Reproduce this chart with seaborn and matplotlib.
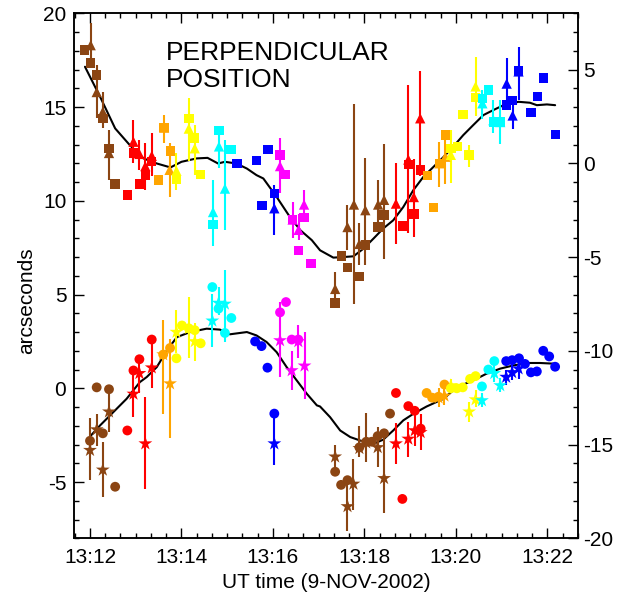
import matplotlib
matplotlib.use("Agg")
import matplotlib.pyplot as plt
from matplotlib.ticker import MultipleLocator, FixedLocator
import pandas as pd
import seaborn as sns

# time axis: minutes after 13:00 UT (9-NOV-2002)
# ---- upper set (right-hand axis): squares + triangles ----
sq_t = [11.875, 12.015, 12.146, 12.28, 12.415, 12.55,
        12.816, 12.95, 13.08, 13.21, 13.35,
        13.5, 13.62, 13.755,
        13.89, 14.16, 14.29, 14.41,
        14.69, 14.82, 15.08,
        15.21, 15.64, 15.76, 15.89, 16.03,
        16.155, 16.28, 16.43, 16.56, 16.68, 16.83,
        17.36, 17.5, 17.63, 17.89, 18.02, 18.3, 18.43,
        18.83, 18.96, 19.08, 19.22,
        19.38, 19.51, 19.64, 19.77,
        19.89, 20.03, 20.16, 20.29, 20.43,
        20.58, 20.71, 20.82, 20.97,
        21.11, 21.24, 21.37, 21.64, 21.78, 21.92, 22.18]
sq_v = [6.05, 5.35, 4.7, 2.4, 0.8, -1.1,
        -1.7, 0.55, -1.1, -0.65, 0.1,
        -0.9, 1.9, 0.65,
        -0.85, 2.4, 1.35, -0.6,
        -3.25, 1.75, 0.75,
        0.0, 0.15, -2.25, 0.75, -1.6,
        0.45, -0.6, -3.0, -4.65, -2.9, -5.35,
        -7.45, -4.95, -5.55, -6.05, -4.35, -3.4, -2.75,
        -3.35, -0.05, -2.7, -0.35,
        -0.65, -2.35, 0.0, 1.5,
        0.8, 0.9, 2.6, 0.45, 3.5,
        3.45, 3.9, 2.2, 2.2,
        3.1, 3.35, 4.95, 2.7, 3.55, 4.55, 1.55]
sq_c = (["brown"] * 6 + ["red"] * 5 + ["orange"] * 3 + ["yellow"] * 4
        + ["cyan"] * 3 + ["blue"] * 5 + ["magenta"] * 6 + ["brown"] * 7
        + ["red"] * 4 + ["orange"] * 4 + ["yellow"] * 5 + ["cyan"] * 4
        + ["blue"] * 7)

tri_t = [12.015, 12.146, 12.28, 12.415,
         12.95, 13.08, 13.21, 13.35,
         13.62, 13.74,
         13.89, 14.16, 14.29,
         14.69, 14.82, 14.95,
         16.03,
         16.155, 16.43, 16.56, 16.68,
         17.36, 17.63, 17.77, 17.89, 18.02, 18.3, 18.43,
         18.69, 18.96, 19.08, 19.22,
         19.64, 19.77,
         19.89, 20.29, 20.43,
         20.58, 20.82, 20.97,
         21.11, 21.24, 21.37]
tri_v = [6.3, 3.8, 2.75, 0.55,
         1.15, 0.5, -0.15, 0.4,
         1.9, -0.35,
         -0.4, 1.85, 0.8,
         -2.6, 0.9, -1.35,
         -2.4,
         -0.15, -3.0, -3.55, -2.2,
         -6.7, -3.4, -2.2, -4.3, -2.5, -2.2, -1.95,
         -2.15, 0.2, -1.8, 2.4,
         0.0, 0.35,
         0.45, 0.45, 4.1,
         3.2, 2.3, 2.2,
         4.25, 2.55, 4.9]
tri_lo = [5.3, 2.4, 1.9, -0.9,
          0.0, -0.35, -1.45, -0.7,
          1.1, -1.8,
          -1.45, 0.1, -0.6,
          -4.4, -0.25, -3.55,
          -3.85,
          -1.6, -4.0, -4.1, -3.05,
          -7.45, -4.65, -7.5, -5.45, -5.45, -3.4, -5.1,
          -4.3, -3.7, -3.95, -0.7,
          -1.25, -1.1,
          -1.05, -0.2, 2.5,
          2.35, 1.6, 1.05,
          3.2, 1.85, 3.35]
tri_hi = [7.5, 5.25, 3.8, 1.75,
          2.3, 1.25, 1.1, 1.6,
          2.55, 1.1,
          0.55, 3.5, 2.05,
          -0.9, 1.6, 1.25,
          -1.15,
          1.35, -2.05, -2.7, -1.45,
          -5.8, -2.25, 3.15, -3.2, 0.3, -0.9, 1.05,
          0.0, 4.15, 0.25, 4.9,
          1.15, 1.25,
          1.75, 0.95, 5.65,
          3.9, 3.4, 3.35,
          5.6, 3.35, 6.2]
tri_c = (["brown"] * 4 + ["red"] * 4 + ["orange"] * 2 + ["yellow"] * 3
         + ["cyan"] * 3 + ["blue"] + ["magenta"] * 4 + ["brown"] * 7
         + ["red"] * 4 + ["orange"] * 2 + ["yellow"] * 3 + ["cyan"] * 3
         + ["blue"] * 3)

up_curve_t = [11.89, 12.22, 12.55, 12.87, 13.17, 13.46, 13.76, 14.0, 14.33,
              14.57, 14.8, 14.95, 15.2, 15.43, 15.64, 15.79, 16.08, 16.37,
              16.6, 16.85, 17.03, 17.32, 17.54, 17.76, 17.98, 18.2, 18.41,
              18.63, 18.85, 19.07, 19.29, 19.51, 19.73, 19.94, 20.16, 20.38,
              20.6, 20.82, 21.04, 21.37, 21.62, 21.77, 21.99, 22.17]
up_curve_v = [5.15, 3.55, 1.86, 0.97, 0.26, -0.01, -0.22, 0.08, 0.26,
              0.29, -0.01, 0.08, -0.01, -0.28, -0.63, -0.81, -1.79, -2.86,
              -3.57, -4.1, -4.64, -5.03, -5.0, -4.96, -4.55, -4.01, -3.48,
              -3.04, -2.33, -1.43, -0.72, -0.19, 0.34, 0.88, 1.5, 2.04,
              2.57, 2.84, 3.1, 3.28, 3.23, 3.1, 3.14, 3.1]

# ---- lower set (left-hand axis): circles + stars ----
circ_t = [12.0, 12.146, 12.28, 12.415, 12.55,
          12.816, 12.95, 13.08, 13.35,
          13.6, 13.75,
          13.89, 14.01, 14.16, 14.29, 14.42,
          14.675, 14.81, 14.95, 15.09,
          15.61, 15.75, 15.88, 16.03,
          16.155, 16.285, 16.41, 16.555,
          17.36, 17.49, 17.63, 17.89, 18.04, 18.16, 18.29, 18.43, 18.56,
          18.69, 18.83, 18.96, 19.1, 19.23,
          19.36, 19.48, 19.62, 19.75,
          19.89, 20.02, 20.15, 20.31, 20.43,
          20.57, 20.71, 20.84,
          21.1, 21.23, 21.38, 21.51, 21.64, 21.77, 21.91, 22.04, 22.17]
circ_v = [-2.8, 0.05, -2.4, -0.05, -5.25,
          -2.25, 0.95, 1.55, 2.6,
          1.8, 2.15,
          1.6, 3.35, 3.2, 3.1, 2.4,
          5.4, 4.25, 2.95, 3.75,
          2.5, 2.25, 1.1, -1.35,
          4.05, 4.6, 2.6, 2.6,
          -4.45, -5.15, -4.9, -3.15, -2.85, -2.85, -2.55, -2.4, -1.35,
          -0.25, -5.9, -0.95, -1.2, -2.15,
          -0.25, -0.5, -0.45, 0.2,
          0.0, 0.0, 0.05, 0.5, 0.65,
          0.1, 1.0, 1.45,
          1.45, 1.5, 1.6, 1.3, 0.85, 0.9, 2.0, 1.7, 1.15]
circ_c = (["brown"] * 5 + ["red"] * 4 + ["orange"] * 2 + ["yellow"] * 5
          + ["cyan"] * 4 + ["blue"] * 4 + ["magenta"] * 4 + ["brown"] * 9
          + ["red"] * 5 + ["orange"] * 4 + ["yellow"] * 5 + ["cyan"] * 3
          + ["blue"] * 9)

star_t = [12.0, 12.146, 12.28, 12.415,
          12.95, 13.08, 13.21, 13.35,
          13.6, 13.75,
          13.89, 14.16, 14.29,
          14.675, 14.81, 14.95,
          16.03,
          16.155, 16.41, 16.555, 16.69,
          17.36, 17.63, 17.76, 17.89, 18.04, 18.29, 18.43,
          18.69, 18.96, 19.1, 19.23,
          19.62, 19.75,
          19.89, 20.29, 20.43,
          20.57, 20.84, 20.97,
          21.1, 21.23, 21.37]
star_v = [-3.3, -2.2, -4.35, -1.25,
          -0.3, 0.8, -2.95, 1.1,
          1.8, 0.25,
          3.0, 3.2, 2.5,
          3.6, 4.55, 4.5,
          -2.95,
          2.55, 0.95, 2.5, 1.2,
          -3.65, -6.3, -5.1, -3.2, -2.9, -3.15, -4.8,
          -2.95, -2.7, -2.25, -2.35,
          -0.5, -0.4,
          0.15, -1.25, -0.6,
          -0.65, 0.8, 0.15,
          0.6, 0.85, 1.05]
star_lo = [-4.9, -3.1, -5.8, -2.35,
           -1.55, -0.25, -5.35, 0.0,
           -1.35, -2.65,
           1.9, 1.6, 1.45,
           2.2, 3.9, 2.45,
           -4.1,
           0.6, -0.1, 1.6, -0.55,
           -4.4, -7.6, -6.5, -3.65, -3.95, -4.2, -6.65,
           -4.05, -3.65, -3.1, -3.3,
           -1.0, -0.9,
           -0.2, -1.8, -1.0,
           -1.0, 0.35, -0.2,
           0.2, 0.45, 0.5]
star_hi = [-1.6, -1.35, -2.85, -0.05,
           1.0, 1.75, -0.45, 2.6,
           3.65, 2.65,
           4.15, 4.85, 3.5,
           5.05, 5.4, 6.3,
           -1.6,
           4.6, 2.0, 3.35, 3.0,
           -3.05, -4.9, -3.75, -2.0, -1.3, -2.05, -2.4,
           -1.85, -1.8, -1.45, -1.35,
           0.0, 0.15,
           0.5, -0.75, -0.1,
           -0.25, 1.25, 0.55,
           0.95, 1.3, 1.45]
star_c = tri_c

low_curve_t = [12.0, 12.22, 12.51, 12.8, 13.09, 13.24, 13.46, 13.68, 13.9,
               14.19, 14.55, 14.84, 15.06, 15.43, 15.64, 15.86, 16.08, 16.3,
               16.52, 16.74, 16.96, 17.03, 17.25, 17.47, 17.69, 17.9, 18.2,
               18.41, 18.63, 18.85, 19.07, 19.36, 19.73, 20.02, 20.38, 20.67,
               20.97, 21.26, 21.55, 21.84, 22.17]
low_curve_v = [-2.57, -1.98, -1.27, -0.56, 0.33, 0.6, 1.13, 2.02, 2.73,
               3.0, 3.18, 3.13, 2.88, 3.0, 2.82, 2.47, 1.93, 1.13,
               0.42, -0.29, -0.91, -0.97, -1.54, -2.25, -2.6, -2.78, -2.96,
               -2.74, -2.25, -1.71, -1.36, -0.97, -0.56, 0.06, 0.42, 0.78,
               1.05, 1.22, 1.35, 1.35, 1.31]

x_ticks = [12, 14, 16, 18, 20, 22]
x_labels = ["13:12", "13:14", "13:16", "13:18", "13:20", "13:22"]

palette = {"brown": "#8b4513", "red": "#ff0000", "orange": "#ffa500",
           "yellow": "#ffff00", "cyan": "#00ffff", "blue": "#0000ff",
           "magenta": "#ff00ff"}

sns.set_style("ticks")
plt.rcParams["font.family"] = ["Liberation Sans", "DejaVu Sans"]
plt.rcParams["axes.unicode_minus"] = False
plt.rcParams["text.color"] = "black"
plt.rcParams["axes.labelcolor"] = "black"
plt.rcParams["xtick.color"] = "black"
plt.rcParams["ytick.color"] = "black"

squares = pd.DataFrame({"t": sq_t, "v": sq_v, "c": sq_c})
tris = pd.DataFrame({"t": tri_t, "v": tri_v, "lo": tri_lo, "hi": tri_hi, "c": tri_c})
circles = pd.DataFrame({"t": circ_t, "v": circ_v, "c": circ_c})
stars = pd.DataFrame({"t": star_t, "v": star_v, "lo": star_lo, "hi": star_hi, "c": star_c})

fig = plt.figure(figsize=(6.22, 5.94), dpi=100)
ax = fig.add_axes([74 / 622, 55.7 / 594, 504 / 622, 525 / 594])
ax2 = ax.twinx()

# lower set on the left axis
sns.lineplot(x=low_curve_t, y=low_curve_v, color="black", lw=1.5, ax=ax, zorder=1)
ax.vlines(stars["t"], stars["lo"], stars["hi"], colors=stars["c"].map(palette), lw=1.5, zorder=2)
sns.scatterplot(data=stars, x="t", y="v", hue="c", palette=palette, marker="*",
                s=110, linewidth=0, legend=False, ax=ax, zorder=3)
sns.scatterplot(data=circles, x="t", y="v", hue="c", palette=palette, marker="o",
                s=50, linewidth=0, legend=False, ax=ax, zorder=3)

# upper set on the right axis
sns.lineplot(x=up_curve_t, y=up_curve_v, color="black", lw=1.5, ax=ax2, zorder=1)
ax2.vlines(tris["t"], tris["lo"], tris["hi"], colors=tris["c"].map(palette), lw=1.5, zorder=2)
sns.scatterplot(data=tris, x="t", y="v", hue="c", palette=palette, marker="^",
                s=55, linewidth=0, legend=False, ax=ax2, zorder=3)
sns.scatterplot(data=squares, x="t", y="v", hue="c", palette=palette, marker="s",
                s=46, linewidth=0, legend=False, ax=ax2, zorder=3)

ax.set_xlim(11.65, 22.67)
ax.set_ylim(-8, 20)
ax2.set_ylim(-20, 8)

ax.xaxis.set_major_locator(FixedLocator(x_ticks))
ax.set_xticklabels(x_labels)
ax.xaxis.set_minor_locator(MultipleLocator(1 / 3))
ax.yaxis.set_major_locator(MultipleLocator(5))
ax.yaxis.set_minor_locator(MultipleLocator(1))
ax2.yaxis.set_major_locator(MultipleLocator(5))
ax2.yaxis.set_minor_locator(MultipleLocator(1))

ax.tick_params(axis="both", which="both", direction="in", top=True, right=False,
               colors="black", labelsize=15, width=1)
ax.tick_params(axis="both", which="major", length=7)
ax.tick_params(axis="both", which="minor", length=3.6)
ax.tick_params(axis="x", pad=7)
ax.tick_params(axis="y", pad=5.5)
ax2.tick_params(axis="y", which="both", direction="in", colors="black",
                labelsize=15, width=1, pad=3.6)
ax2.tick_params(axis="y", which="major", length=7)
ax2.tick_params(axis="y", which="minor", length=3.6)

for a in (ax, ax2):
    a.set_xlabel("")
    a.set_ylabel("")
    for sp in a.spines.values():
        sp.set_linewidth(1.1)
        sp.set_color("black")

ax.set_ylabel("arcseconds", fontsize=15, color="black")
ax.yaxis.set_label_coords(-0.075, 0.452)
ax.set_xlabel("UT time (9-NOV-2002)", fontsize=15, color="black")
ax.xaxis.set_label_coords(0.5, -0.067)

fig.text(166 / 622, 1 - 60 / 594, "PERPENDICULAR", fontsize=19, va="baseline", color="black")
fig.text(166 / 622, 1 - 87 / 594, "POSITION", fontsize=19, va="baseline", color="black")

fig.savefig("out.png", dpi=100)
